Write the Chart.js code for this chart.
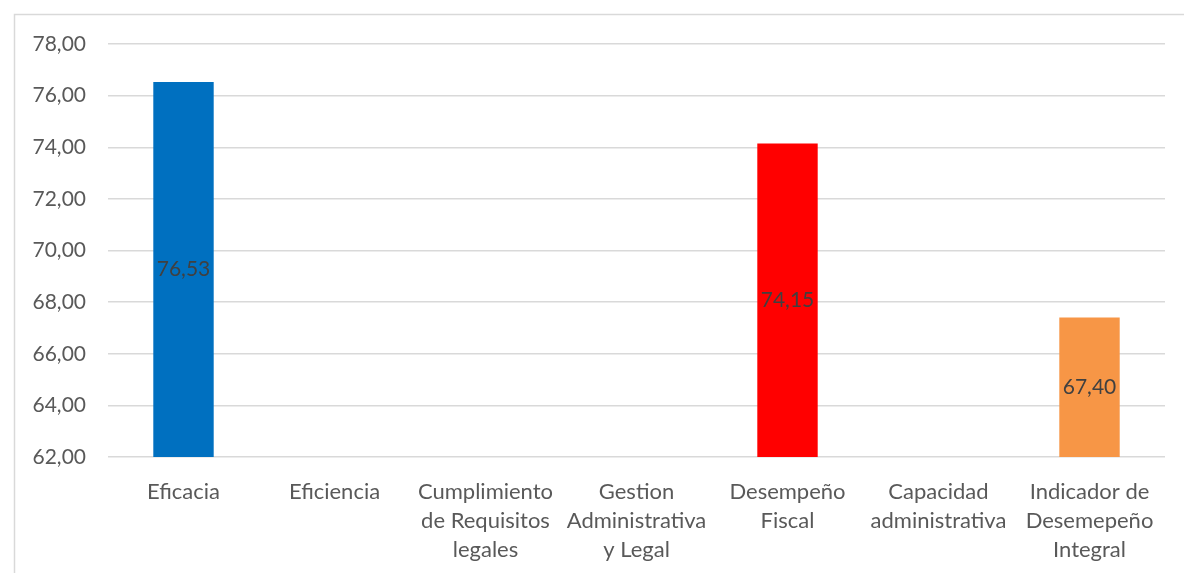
<!DOCTYPE html>
<html>
<head>
<meta charset="utf-8">
<script src="https://cdn.jsdelivr.net/npm/chart.js@4.4.0/dist/chart.umd.min.js"></script>
<style>
  html, body { margin: 0; padding: 0; background: #fff; }
  #wrap { width: 1184px; height: 573px; position: relative; }
</style>
</head>
<body>
<div id="wrap"><canvas id="grafico" width="1184" height="573"></canvas></div>
<script>
// Datos del grafico
const categorias = [
    'Eficacia',
    'Eficiencia',
    ['Cumplimiento', 'de Requisitos', 'legales'],
    ['Gestion', 'Administrativa', 'y Legal'],
    ['Desempeño', 'Fiscal'],
    ['Capacidad', 'administrativa'],
    ['Indicador de', 'Desemepeño', 'Integral']
];
const valores = [76.53, null, null, null, 74.15, null, 67.40];
const colores = ['#0070C0', '#0070C0', '#0070C0', '#0070C0', '#FF0000', '#0070C0', '#F79646'];
const ejeMin = 62;
const ejeMax = 78;
const ejePaso = 2;

const fuente = "Lato, 'Open Sans', sans-serif";

function formato(v) {
    return v.toFixed(2).replace('.', ',');
}

// marco gris alrededor del grafico
const marco = {
    id: 'marco',
    beforeDraw(chart) {
        const ctx = chart.ctx;
        ctx.save();
        ctx.strokeStyle = '#d9d9d9';
        ctx.lineWidth = 1.5;
        ctx.strokeRect(14.5, 14.5, 1400, 800);
        ctx.restore();
    }
};

// etiquetas en el centro de cada barra
const etiquetas = {
    id: 'etiquetas',
    afterDatasetsDraw(chart) {
        const ctx = chart.ctx;
        const meta = chart.getDatasetMeta(0);
        const area = chart.chartArea;
        ctx.save();
        ctx.font = "21px " + fuente;
        ctx.fillStyle = '#404040';
        ctx.textAlign = 'center';
        ctx.textBaseline = 'middle';
        meta.data.forEach((bar, i) => {
            const v = valores[i];
            if (v === null) return;
            const base = Math.min(bar.base, area.bottom);
            ctx.fillText(formato(v), bar.x, (bar.y + base) / 2);
        });
        ctx.restore();
    }
};

new Chart(document.getElementById('grafico'), {
    type: 'bar',
    data: {
        labels: categorias,
        datasets: [{
            data: valores,
            backgroundColor: colores,
            borderWidth: 0,
            barPercentage: 0.8,
            categoryPercentage: 0.5
        }]
    },
    options: {
        responsive: false,
        animation: false,
        devicePixelRatio: 1,
        layout: { padding: { left: 0, right: 19, top: 44, bottom: 0 } },
        plugins: {
            legend: { display: false },
            tooltip: { enabled: false }
        },
        scales: {
            x: {
                grid: { display: false },
                border: { display: false },
                ticks: {
                    color: '#595959',
                    font: { family: fuente, size: 22, lineHeight: '29px' },
                    padding: 12,
                    maxRotation: 0,
                    autoSkip: false
                },
                afterFit(scale) { scale.height = 116; }
            },
            y: {
                min: ejeMin,
                max: ejeMax,
                grid: { color: '#d9d9d9', lineWidth: 1.5, drawTicks: false },
                border: { display: false },
                ticks: {
                    stepSize: ejePaso,
                    color: '#595959',
                    font: { family: fuente, size: 21 },
                    padding: 22,
                    callback: v => formato(v)
                },
                afterFit(scale) { scale.width = 108; }
            }
        }
    },
    plugins: [marco, etiquetas]
});
</script>
</body>
</html>
